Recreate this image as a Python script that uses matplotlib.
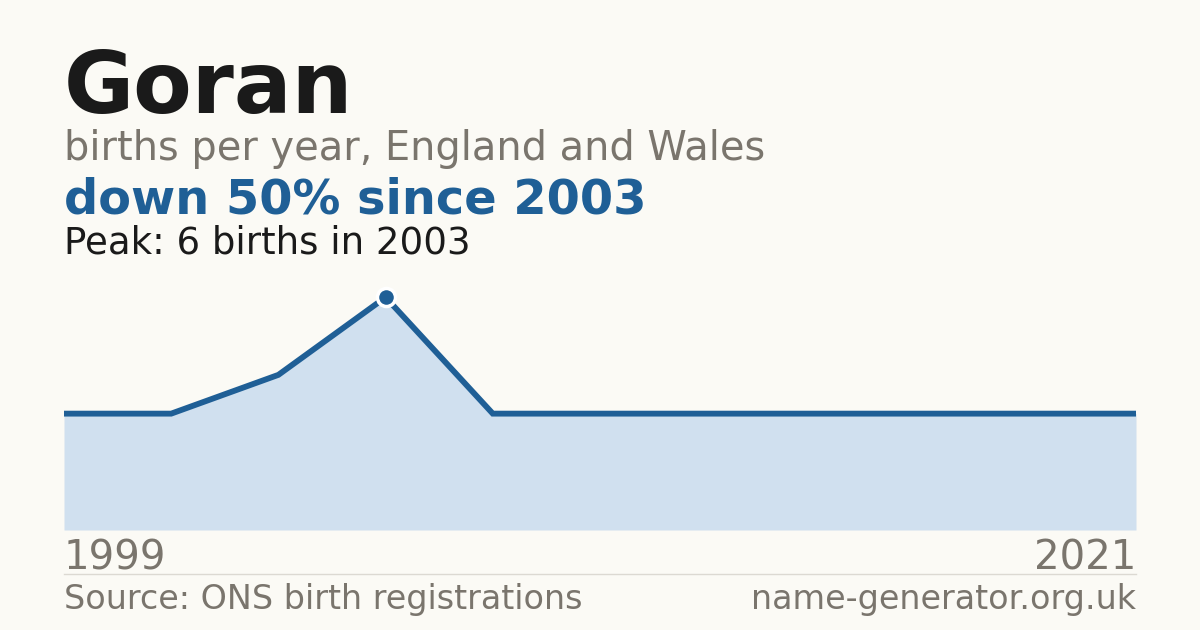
import numpy as np
import matplotlib
matplotlib.use('Agg')
import matplotlib.pyplot as plt

### Data
name = 'Goran'
years = [1999, 2001, 2002, 2003, 2005, 2008, 2010, 2013, 2015, 2018, 2021]
births = [3, 3, 4, 6, 3, 3, 3, 3, 3, 3, 3]

### Colours
bg = '#fbfaf5'
blue = '#1f5f96'
fillc = '#d0e0ef'
grey = '#7a756d'
dark = '#1a1a1a'

plt.rcParams['font.family'] = ['DejaVu Sans']

fig = plt.figure(figsize=(12, 6.3), dpi=100, facecolor=bg)
ax = fig.add_axes([64/1200, 100/630, 1072/1200, 256/630])
ax.set_facecolor(bg)

xs = np.arange(len(years))
peak = int(np.argmax(births))

ax.fill_between(xs, births, 0, color=fillc, lw=0, zorder=1)
ax.plot(xs, births, color=blue, lw=4.2, solid_joinstyle='miter', solid_capstyle='butt',
        zorder=2)
ax.plot(xs[peak], births[peak], 'o', ms=13, color=blue, mec='white', mew=2.5, zorder=3)

ax.set_xlim(xs[0], xs[-1])
ax.set_ylim(0, max(births) * 1.1)
ax.axis('off')

### Header text
fig.text(64/1200, 1 - 113/630, name, fontsize=61.6, fontweight='bold', color=dark,
         va='baseline')
fig.text(64/1200, 1 - 160/630, 'births per year, England and Wales', fontsize=28.75,
         color=grey, va='baseline')
drop = round(100 * (births[peak] - births[-1]) / births[peak])
fig.text(64/1200, 1 - 214/630, 'down %d%% since %d' % (drop, years[peak]), fontsize=34.5,
         fontweight='bold', color=blue, va='baseline')
fig.text(64/1200, 1 - 253/630, 'Peak: %d births in %d' % (births[peak], years[peak]),
         fontsize=26.75, color=dark, va='baseline')

### Axis end labels
fig.text(64/1200, 1 - 570/630, str(years[0]), fontsize=29, color=grey, va='baseline')
fig.text(1136/1200, 1 - 570/630, str(years[-1]), fontsize=29, color=grey, va='baseline',
         ha='right')

### Footer
fig.add_artist(plt.Line2D([64/1200, 1136/1200], [1 - 574/630] * 2, color='#dcd9d2', lw=1))
fig.text(64/1200, 1 - 609/630, 'Source: ONS birth registrations', fontsize=24, color=grey,
         va='baseline')
fig.text(1136/1200, 1 - 609/630, 'name-generator.org.uk', fontsize=24, color=grey,
         va='baseline', ha='right')

fig.savefig('out.png', dpi=100, facecolor=bg)
